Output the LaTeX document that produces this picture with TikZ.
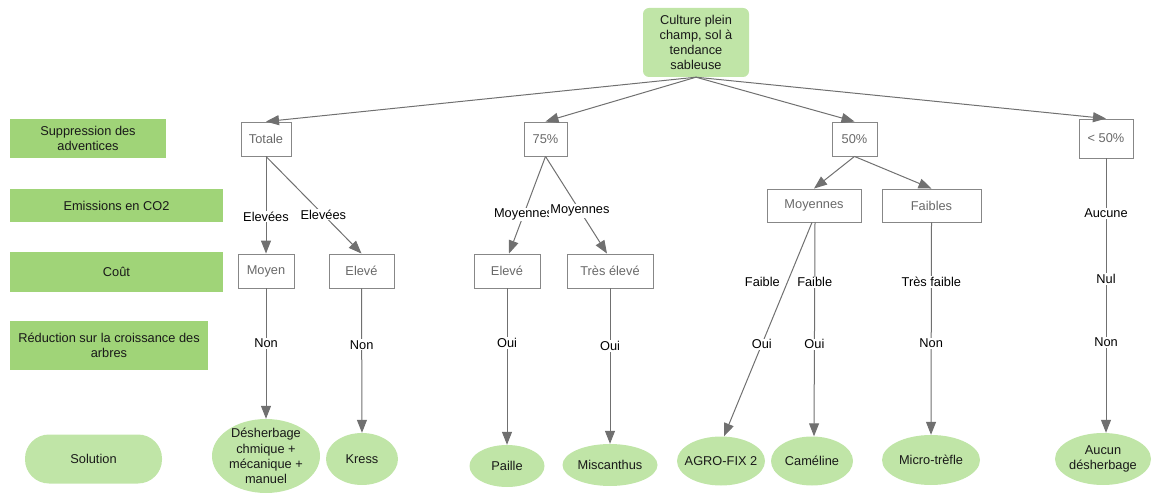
\documentclass[tikz,border=0pt]{standalone}
\usepackage{fontspec}
\setmainfont{Liberation Sans}
\usetikzlibrary{arrows.meta,shapes.geometric}
\definecolor{catgreen}{RGB}{160,212,120}
\definecolor{solgreen}{RGB}{192,229,167}
\definecolor{edgegray}{RGB}{112,112,112}
\definecolor{boxgray}{RGB}{135,135,135}
\definecolor{txtgray}{RGB}{105,105,105}
\begin{document}
\begin{tikzpicture}[x=1pt,y=-1pt,
  every node/.style={font=\fontsize{12.8}{15.2}\selectfont, align=center},
  cat/.style={rectangle, fill=catgreen, inner sep=0, text=black!90},
  box/.style={rectangle, draw=boxgray, line width=0.9pt, fill=white, text=txtgray, inner sep=0, minimum height=34},
  sol/.style={ellipse, fill=solgreen, inner sep=0},
  soltext/.style={text=black!90, align=center, inner sep=0},
  lbl/.style={fill=white, inner sep=1pt, text=black},
  freelbl/.style={inner sep=1pt, text=black},
  conn/.style={draw=edgegray, line width=1pt, -{Triangle[length=13pt,width=10pt]}}]
\useasboundingbox (0,0) rectangle (1152,494);

% root
\node[rectangle, rounded corners=6pt, fill=solgreen, minimum width=106, minimum height=69, inner sep=0, text=black!90] (root) at (696,42.5) {Culture plein\\champ, sol à\\tendance\\sableuse};

% category column
\node[cat, minimum width=156, minimum height=39] (c1) at (88,138.5) {Suppression des\\adventices};
\node[cat, minimum width=213, minimum height=33] (c2) at (116.5,205.5) {Emissions en CO2};
\node[cat, minimum width=213, minimum height=40] (c3) at (116.5,272) {Coût};
\node[cat, minimum width=198, minimum height=49] (c4) at (109,345.5) {Réduction sur la croissance des\\arbres};
\node[rectangle, rounded corners=24pt, fill=solgreen, inner sep=0, minimum width=137, minimum height=49, text=black!90] (c5) at (93.5,459) {Solution};

% level 1
\node[box, minimum width=50] (totale) at (266,139) {Totale};
\node[box, minimum width=43] (p75) at (545.5,139) {75\%};
\node[box, minimum width=45] (p50) at (854.5,139) {50\%};
\node[box, minimum width=54, minimum height=39] (plt) at (1106,138.5) {< 50\%};

% level 2
\node[box, minimum width=94, minimum height=33] (moyennes) at (814,205.5) {Moyennes};
\node[box, minimum width=99, minimum height=33] (faibles) at (931.5,205.5) {Faibles};

% level 3
\node[box, minimum width=56] (moyen) at (266,271) {Moyen};
\node[box, minimum width=65] (eleveA) at (361.5,271) {Elevé};
\node[box, minimum width=66] (eleveB) at (507,271) {Elevé};
\node[box, minimum width=86] (tres) at (610,271) {Très élevé};

% solutions
\node[sol, minimum width=108, minimum height=74, label={[soltext]center:{Désherbage\\chmique +\\mécanique +\\manuel}}] (s1) at (266,456) {};
\node[sol, minimum width=72, minimum height=52, label={[soltext]center:Kress}] (kress) at (362,459) {};
\node[sol, minimum width=75, minimum height=42, label={[soltext]center:Paille}] (paille) at (507,466) {};
\node[sol, minimum width=95, minimum height=42, label={[soltext]center:Miscanthus}] (misc) at (610,465) {};
\node[sol, minimum width=88, minimum height=49, label={[soltext]center:AGRO-FIX 2}] (agro) at (721,461) {};
\node[sol, minimum width=82, minimum height=49, label={[soltext]center:Caméline}] (cam) at (812,461) {};
\node[sol, minimum width=98, minimum height=50, label={[soltext]center:Micro-trèfle}] (micro) at (931,460) {};
\node[sol, minimum width=96, minimum height=52, label={[soltext]center:{Aucun\\désherbage}}] (aucun) at (1103,459) {};

% root connectors
\draw[conn] (root.south) -- (totale.north);
\draw[conn] (root.south) -- (p75.north);
\draw[conn] (root.south) -- (p50.north);
\draw[conn] (root.south) -- (plt.north);

% Totale branch
\draw[conn] (totale.south) -- node[lbl,pos=0.62]{Elevées} (moyen.north);
\draw[conn] (totale.south) -- node[lbl,pos=0.6]{Elevées} (eleveA.north);
\draw[conn] (moyen.south) -- node[lbl,pos=0.42]{Non} (s1.north);
\draw[conn] (eleveA.south) -- node[lbl,pos=0.39]{Non} (kress.north);

% 75% branch
\draw[conn] (p75.south) -- node[lbl,pos=0.6]{Moyennes} ([xshift=2pt]eleveB.north);
\draw[conn] (p75.south) -- node[lbl,pos=0.56]{Moyennes} ([xshift=-3pt]tres.north);
\draw[conn] (eleveB.south) -- node[lbl,pos=0.35]{Oui} (paille.north);
\draw[conn] (tres.south) -- node[lbl,pos=0.37]{Oui} (misc.north);

% 50% branch
\draw[conn] (p50.south) -- (moyennes.north);
\draw[conn] (p50.south) -- (faibles.north);
\draw[conn] ([xshift=-2pt]moyennes.south) -- node[freelbl,pos=0.28,xshift=-25pt]{Faible} node[lbl,pos=0.57]{Oui} ([xshift=3pt]agro.north);
\draw[conn] ([xshift=1pt]moyennes.south) -- node[lbl,pos=0.28]{Faible} node[lbl,pos=0.57]{Oui} ([xshift=2pt]cam.north);
\draw[conn] (faibles.south) -- node[lbl,pos=0.28]{Très faible} node[lbl,pos=0.57]{Non} (micro.north);

% < 50% branch
\draw[conn] (plt.south) -- node[lbl,pos=0.2]{Aucune} node[lbl,pos=0.44]{Nul} node[lbl,pos=0.67]{Non} (plt.south |- aucun.north);
\end{tikzpicture}
\end{document}
